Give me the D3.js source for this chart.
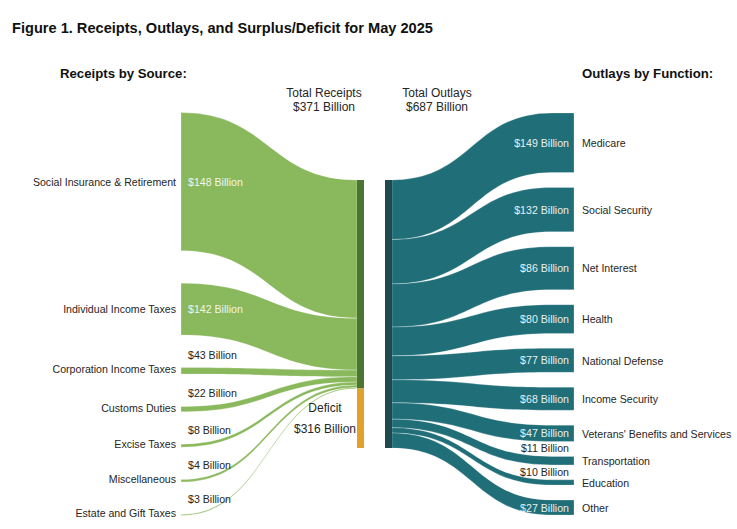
<!DOCTYPE html>
<html>
<head>
<meta charset="utf-8">
<script src="https://cdn.jsdelivr.net/npm/d3@7"></script>
<style>
  body { margin: 0; background: #fff; }
  svg { display: block; font-family: "Liberation Sans", Arial, sans-serif; }
</style>
</head>
<body>
<svg id="chart" width="737" height="529"></svg>
<script>
// ---- Data (billions of dollars) ----
const receiptCategories = ["Social Insurance & Retirement", "Individual Income Taxes", "Corporation Income Taxes", "Customs Duties", "Excise Taxes", "Miscellaneous", "Estate and Gift Taxes"];
const receiptValues = [148, 142, 43, 22, 8, 4, 3];
const receiptBands = [354, 133, 17, 13.6, 7.7, 6.2, 2.6];

const outlayCategories = ["Medicare", "Social Security", "Net Interest", "Health", "National Defense", "Income Security", "Veterans' Benefits and Services", "Transportation", "Education", "Other"];
const outlayValues = [149, 132, 86, 80, 77, 68, 47, 11, 10, 27];
const outlayBands = [152.6, 113.6, 110.3, 73.8, 61.5, 59, 41.8, 21.8, 13.6, 38.5];

const totalReceipts = 371;
const totalOutlays = 687;
const deficit = 316;

// ---- Layout ----
const svg = d3.select("#chart");
const C = {
  green: "#8ab85c", greenDark: "#4a7533", orange: "#e0a229",
  teal: "#1f6e78", tealDark: "#1e4a4f", text: "#262626"
};
const mid = 314;
const outlayBandTotal = d3.sum(outlayBands);
const deficitBand = outlayBandTotal - d3.sum(receiptBands);
const h = d3.scaleLinear().domain([0, outlayBandTotal]).range([0, 268]);

const xL0 = 181, xRecv0 = 357, xRecv1 = 364, xOut0 = 385, xOut1 = 392, xRc = 552, xR1 = 574;
const padL = 32.4, padR = 14.9;

function stack(bands, pad) {
  const hs = bands.map(v => h(v));
  const total = d3.sum(hs) + pad * (bands.length - 1);
  let y = mid - total / 2;
  return hs.map(v => { const n = { y0: y, y1: y + v, h: v }; y += v + pad; return n; });
}
const leftNodes = stack(receiptBands, padL);
const rightNodes = stack(outlayBands, padR);

const barTop = mid - h(outlayBandTotal) / 2;
// center stacking
let cy = barTop;
const leftTargets = receiptBands.map(v => { const t = cy; cy += h(v); return t; });
const greenBottom = cy;
const deficitBottom = greenBottom + h(deficitBand);
cy = barTop;
const rightSources = outlayBands.map(v => { const t = cy; cy += h(v); return t; });

// band: curve from x0 to xc, then flat to x1
function bandPath(x0, y0, xc, x1, y1, w) {
  const xm = (x0 + xc) / 2;
  const p = d3.path();
  p.moveTo(x0, y0);
  p.bezierCurveTo(xm, y0, xm, y1, xc, y1);
  p.lineTo(x1, y1);
  p.lineTo(x1, y1 + w);
  p.lineTo(xc, y1 + w);
  p.bezierCurveTo(xm, y1 + w, xm, y0 + w, x0, y0 + w);
  p.closePath();
  return p.toString();
}

// left links
svg.append("g").selectAll("path").data(receiptBands).join("path")
  .attr("d", (v, i) => bandPath(xL0, leftNodes[i].y0, xRecv0, xRecv0, leftTargets[i], h(v)))
  .attr("fill", C.green)
  .attr("stroke", "#ffffff").attr("stroke-opacity", 0.55).attr("stroke-width", 0.5);

// right links
svg.append("g").selectAll("path").data(outlayBands).join("path")
  .attr("d", (v, i) => bandPath(xOut1, rightSources[i], xRc, xR1, rightNodes[i].y0, h(v)))
  .attr("fill", C.teal)
  .attr("stroke", "#ffffff").attr("stroke-opacity", 0.5).attr("stroke-width", 0.5);

// center bars
svg.append("rect").attr("x", xRecv0).attr("y", barTop).attr("width", xRecv1 - xRecv0).attr("height", greenBottom - barTop).attr("fill", C.greenDark);
svg.append("rect").attr("x", xRecv0).attr("y", greenBottom).attr("width", xRecv1 - xRecv0).attr("height", deficitBottom - greenBottom).attr("fill", C.orange);
svg.append("rect").attr("x", xOut0).attr("y", barTop).attr("width", xOut1 - xOut0).attr("height", h(outlayBandTotal)).attr("fill", C.tealDark);

// ---- Text ----
const fmt = v => `$${v} Billion`;
const t = (x, y, s, opts = {}) => svg.append("text").attr("x", x).attr("y", y)
  .attr("font-size", opts.size || 10.6).attr("fill", opts.fill || C.text)
  .attr("font-weight", opts.bold ? "bold" : null)
  .attr("text-anchor", opts.anchor || "start").text(s);

t(12, 33, "Figure 1. Receipts, Outlays, and Surplus/Deficit for May 2025", { size: 14.6, bold: true, fill: "#111" });
t(60, 78, "Receipts by Source:", { size: 13.2, bold: true, fill: "#111" });
t(582, 78, "Outlays by Function:", { size: 13.2, bold: true, fill: "#111" });
t(324, 97, "Total Receipts", { size: 12, anchor: "middle" });
t(324, 111, fmt(totalReceipts), { size: 12, anchor: "middle" });
t(437, 97, "Total Outlays", { size: 12, anchor: "middle" });
t(437, 111, fmt(totalOutlays), { size: 12, anchor: "middle" });
t(325, 412, "Deficit", { size: 12, anchor: "middle" });
t(325, 433, fmt(deficit), { size: 12, anchor: "middle" });

receiptCategories.forEach((name, i) => {
  const n = leftNodes[i];
  const c = (n.y0 + n.y1) / 2;
  if (n.h > 20) {
    t(176, c + 4, name, { anchor: "end" });
    t(188, c + 4, fmt(receiptValues[i]), { fill: "#f2f6ec" });
  } else {
    t(176, c + 2.5, name, { anchor: "end" });
    t(188, c - 12, fmt(receiptValues[i]));
  }
});

outlayCategories.forEach((name, i) => {
  const n = rightNodes[i];
  const c = (n.y0 + n.y1) / 2;
  t(582, c + 4.2, name);
  if (n.h > 12) {
    t(569, c + 4, fmt(outlayValues[i]), { anchor: "end", fill: "#e8f0f1" });
  } else {
    t(569, n.y0 - 4, fmt(outlayValues[i]), { anchor: "end" });
  }
});
</script>
</body>
</html>
